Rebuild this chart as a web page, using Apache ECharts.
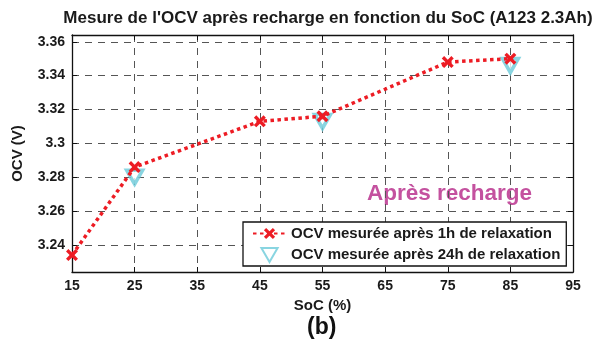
<!DOCTYPE html>
<html>
<head>
<meta charset="utf-8">
<script src="https://cdn.jsdelivr.net/npm/echarts@6/dist/echarts.min.js"></script>
<style>
  html, body { margin: 0; padding: 0; background: #fff; }
  #chart { width: 597px; height: 351px; }
</style>
</head>
<body>
<div id="chart"></div>
<script>
// State of charge (%) and open-circuit voltage (V) after a recharge
const socTicks = [15, 25, 35, 45, 55, 65, 75, 85, 95];
const ocvTicks = [3.24, 3.26, 3.28, 3.3, 3.32, 3.34, 3.36];

const soc1h = [15, 25, 45, 55, 75, 85];
const ocv1h = [3.234, 3.286, 3.313, 3.316, 3.348, 3.350];

const soc24h = [25, 55, 85];
const ocv24h = [3.280, 3.313, 3.346];

const RED = '#ed1c24';
const CYAN = '#6ccbd9';
const FONT = 'Liberation Sans, Arial, sans-serif';

const crossPath = 'path://M2,0 L5,3 L8,0 L10,2 L7,5 L10,8 L8,10 L5,7 L2,10 L0,8 L3,5 L0,2 Z';
const triDown = 'path://M0,0 L10,0 L5,8.66 Z';

const gridLine = { show: true, lineStyle: { color: '#555', type: [7, 6], width: 1 } };
const axisLine = { show: true, lineStyle: { color: '#111', width: 1.3 } };
const labelStyle = { color: '#1a1a1a', fontFamily: FONT, fontWeight: 'bold', fontSize: 14 };
const nameStyle = { color: '#1a1a1a', fontFamily: FONT, fontWeight: 'bold', fontSize: 15 };

const chart = echarts.init(document.getElementById('chart'), null, { renderer: 'canvas' });

chart.setOption({
  animation: false,
  backgroundColor: '#fff',
  title: {
    text: "Mesure de l'OCV après recharge en fonction du SoC (A123 2.3Ah)",
    left: 323, top: 5, textAlign: 'center',
    textStyle: { color: '#1a1a1a', fontFamily: FONT, fontWeight: 'bold', fontSize: 17 }
  },
  grid: { left: 72, right: 24, top: 35, bottom: 79 },
  xAxis: [{
    type: 'value', min: 15, max: 95, position: 'bottom',
    name: 'SoC (%)', nameLocation: 'middle', nameGap: 17,
    nameTextStyle: nameStyle,
    axisLine: axisLine,
    axisTick: { show: true, inside: true, length: 5, customValues: socTicks, lineStyle: { color: '#111' } },
    axisLabel: Object.assign({ customValues: socTicks, margin: 7 }, labelStyle),
    splitLine: gridLine
  }, {
    type: 'value', min: 15, max: 95, position: 'top',
    axisLine: axisLine,
    axisTick: { show: true, inside: true, length: 5, customValues: socTicks, lineStyle: { color: '#111' } },
    axisLabel: { show: false },
    splitLine: { show: false }
  }],
  yAxis: [{
    type: 'value', min: 3.224, max: 3.364, position: 'left',
    name: 'OCV (V)', nameLocation: 'middle', nameGap: 47, nameRotate: 90,
    nameTextStyle: nameStyle,
    axisLine: axisLine,
    axisTick: { show: true, inside: true, length: 5, customValues: ocvTicks, lineStyle: { color: '#111' } },
    axisLabel: Object.assign({ customValues: ocvTicks, margin: 7,
      formatter: v => String(+v.toFixed(2)) }, labelStyle),
    splitLine: gridLine
  }, {
    type: 'value', min: 3.224, max: 3.364, position: 'right',
    axisLine: axisLine,
    axisTick: { show: true, inside: true, length: 5, customValues: ocvTicks, lineStyle: { color: '#111' } },
    axisLabel: { show: false },
    splitLine: { show: false }
  }],
  legend: {
    orient: 'vertical',
    left: 243, top: 222,
    padding: [4, 6, 3, 9],
    itemGap: 6,
    itemWidth: 33, itemHeight: 14,
    backgroundColor: '#fff',
    borderColor: '#111', borderWidth: 1.3, borderRadius: 0,
    textStyle: { color: '#1a1a1a', fontFamily: FONT, fontWeight: 'bold', fontSize: 15 },
    data: ['OCV mesurée après 1h de relaxation', 'OCV mesurée après 24h de relaxation']
  },
  series: [{
    name: 'OCV mesurée après 1h de relaxation',
    type: 'line',
    data: soc1h.map((s, i) => [s, ocv1h[i]]),
    symbol: crossPath, symbolSize: 12,
    itemStyle: { color: RED },
    lineStyle: { color: RED, width: 3.5, type: [3.5, 3.5] },
    z: 3
  }, {
    name: 'OCV mesurée après 24h de relaxation',
    type: 'scatter',
    data: soc24h.map((s, i) => [s, ocv24h[i]]),
    symbol: triDown, symbolSize: [16, 14],
    itemStyle: { color: '#fff', borderColor: CYAN, borderWidth: 3.5 },
    z: 2
  }],
  graphic: [{
    type: 'text', left: 367, top: 182,
    style: { text: 'Après recharge', fill: '#c4519f', font: 'bold 22.5px ' + FONT }
  }, {
    type: 'text', left: 307, top: 316,
    style: { text: '(b)', fill: '#111', font: 'bold 23px ' + FONT }
  }]
});
</script>
</body>
</html>
